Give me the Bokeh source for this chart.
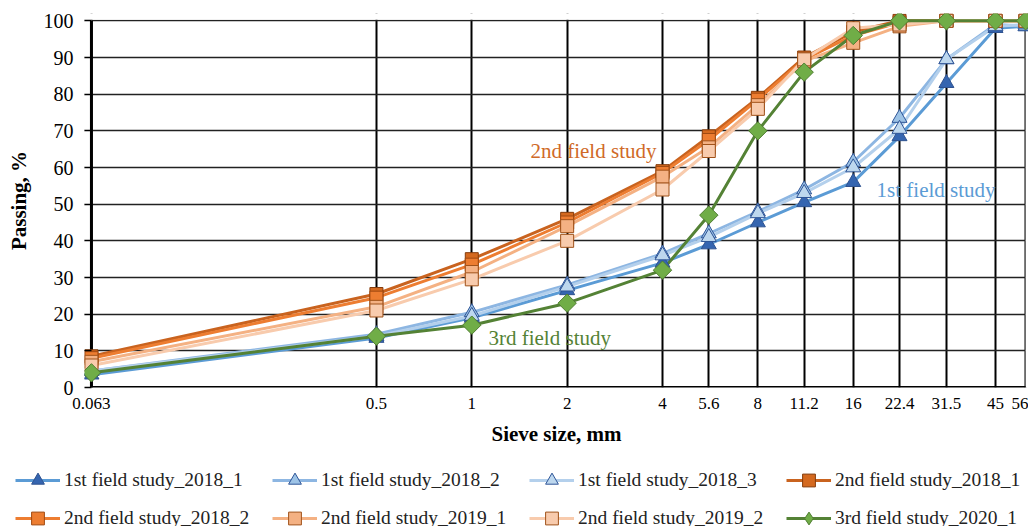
import math
from bokeh.plotting import figure
from bokeh.models import (FixedTicker, CustomJSTickFormatter, Legend, LegendItem, Range1d, Label,
                          BoxAnnotation)
from bokeh.embed import file_html
from bokeh.resources import INLINE

sieve = [0.063, 0.5, 1, 2, 4, 5.6, 8, 11.2, 16, 22.4, 31.5, 45, 56]
y_ticks = list(range(0, 101, 10))

s1_2018_1 = [3.5, 13.5, 19, 26.5, 34, 39, 45, 50.5, 56, 68.5, 83, 98, 98.5]
s1_2018_2 = [4.5, 14.5, 20.5, 28, 36.5, 42, 48, 54, 61.5, 73.5, 89.5, 99, 98.5]
s1_2018_3 = [4.5, 14, 19.5, 27.5, 36, 41, 47.5, 53, 60, 70.5, 89.5, 98.5, 99]
s2_2018_1 = [8.5, 25.5, 35, 46, 59, 68.5, 79, 90, 97, 100, 100, 100, 100]
s2_2018_2 = [8, 24.5, 33.5, 45, 58.5, 67.5, 78.5, 89.5, 96, 99.5, 100, 100, 100]
s2_2019_1 = [7, 22, 31.5, 44, 57.5, 65.5, 77, 89, 94, 98.5, 100, 100, 100]
s2_2019_2 = [6, 21, 29.5, 40, 54, 64.5, 76, 89.5, 98, 99, 100, 100, 100]
s3_2020_1 = [4, 14, 17, 23, 32, 47, 70, 86, 96, 100, 100, 100, 100]

series_names = ["1st field study_2018_1", "1st field study_2018_2", "1st field study_2018_3",
                "2nd field study_2018_1", "2nd field study_2018_2", "2nd field study_2019_1",
                "2nd field study_2019_2", "3rd field study_2020_1"]
series_vals = [s1_2018_1, s1_2018_2, s1_2018_3, s2_2018_1, s2_2018_2, s2_2019_1, s2_2019_2, s3_2020_1]

styles = [
    dict(line="#5B9BD5", fill="#3565B0", outline="#2F528F", marker="triangle", size=15, angle=0, legend_marker="triangle"),
    dict(line="#8DB6E2", fill="#9DC3E6", outline="#2F5597", marker="triangle", size=15, angle=0, legend_marker="triangle"),
    dict(line="#B4D0EC", fill="#BDD7EE", outline="#2F5597", marker="triangle", size=15, angle=0, legend_marker="triangle"),
    dict(line="#C9631F", fill="#D4691F", outline="#843C0C", marker="square", size=13, angle=0, legend_marker="square"),
    dict(line="#ED7D31", fill="#ED7D31", outline="#A04A12", marker="square", size=13, angle=0, legend_marker="square"),
    dict(line="#F4B183", fill="#F4B183", outline="#A0521A", marker="square", size=13, angle=0, legend_marker="square"),
    dict(line="#F8CBAD", fill="#F8CBAD", outline="#A0521A", marker="square", size=13, angle=0, legend_marker="square"),
    dict(line="#548235", fill="#70AD47", outline="#507E32", marker="square", size=13, angle=math.pi / 4, legend_marker="diamond"),
]

ann_texts = ["2nd field study", "1st field study", "3rd field study"]
ann_x = [1.532, 18.96, 1.129]
ann_y = [64.6, 54.0, 13.4]
ann_colors = ["#D06A28", "#5B9BD5", "#548235"]

FONT = "Liberation Serif"
x_lo, x_hi = 0.0599, 57.2
y_lo, y_hi = 0, 102

p = figure(width=1028, height=448, x_axis_type="log", output_backend="svg",
           toolbar_location=None, min_border_left=84, min_border_right=0,
           min_border_top=13, min_border_bottom=61)
p.x_range = Range1d(x_lo, x_hi)
p.y_range = Range1d(y_lo, y_hi)
p.outline_line_color = None

# white masks over the padding around the grid
for kw in (dict(bottom=y_ticks[-1] + 0.3), dict(right=sieve[0]), dict(left=sieve[-1])):
    p.add_layout(BoxAnnotation(fill_color="white", fill_alpha=1, line_alpha=0, level="underlay", **kw))

# axis lines along the first grid positions
p.segment(x0=[sieve[0]], y0=[y_ticks[0]], x1=[sieve[0]], y1=[y_ticks[-1]], line_color="black", line_width=3)
p.segment(x0=[sieve[0]], y0=[y_ticks[0]], x1=[sieve[-1]], y1=[y_ticks[0]], line_color="black", line_width=3)

for name, vals, st in zip(series_names, series_vals, styles):
    p.line(sieve, vals, line_color=st["line"], line_width=3)
for name, vals, st in zip(series_names, series_vals, styles):
    p.scatter(sieve, vals, marker=st["marker"], size=st["size"], fill_color=st["fill"],
              line_color=st["outline"], line_width=1, angle=st["angle"])

for t, x, y, c in zip(ann_texts, ann_x, ann_y, ann_colors):
    p.add_layout(Label(x=x, y=y, text=t, text_color=c, text_font=FONT, text_font_size="21px",
                       text_baseline="middle", text_align="left"))

p.xaxis.ticker = FixedTicker(ticks=sieve)
p.xaxis.formatter = CustomJSTickFormatter(code="return String(Math.round(tick*1000)/1000);")
p.yaxis.ticker = FixedTicker(ticks=y_ticks)

p.xgrid.grid_line_color = "black"
p.xgrid.grid_line_width = 2
p.ygrid.grid_line_color = "#222222"
p.ygrid.grid_line_width = 1.5

for ax in (p.xaxis[0], p.yaxis[0]):
    ax.axis_line_color = None
    ax.major_label_text_font = FONT
    ax.major_label_text_color = "black"
    ax.axis_label_text_font = FONT
    ax.axis_label_text_font_size = "21px"
    ax.axis_label_text_font_style = "bold"
    ax.axis_label_text_color = "black"
    ax.minor_tick_line_color = None

p.xaxis.axis_label = "Sieve size, mm"
p.yaxis.axis_label = "Passing, %"
p.xaxis.major_tick_out = 0
p.xaxis.major_tick_in = 0
p.xaxis.major_label_standoff = 10
p.xaxis.axis_label_standoff = 10
p.xaxis.major_label_text_font_size = "17px"
p.yaxis.major_label_text_font_size = "20px"
p.yaxis.major_tick_out = 0
p.yaxis.major_tick_in = 7
p.yaxis.major_tick_line_width = 1.5
p.yaxis.major_tick_line_color = "black"
p.yaxis.major_label_standoff = 11
p.yaxis.axis_label_standoff = 10

# legend strip below the chart (separate root, same series data kept out of view)
lg = figure(width=1028, height=78, output_backend="svg", toolbar_location=None, min_border=0,
            x_range=Range1d(1000, 2000), y_range=Range1d(1000, 2000))
lg.outline_line_color = None
lg.axis.visible = False
lg.grid.visible = False

items = []
for name, vals, st in zip(series_names, series_vals, styles):
    l = lg.line(sieve, vals, line_color=st["line"], line_width=3)
    m = lg.scatter(sieve, vals, marker=st["legend_marker"], size=st["size"], fill_color=st["fill"],
                   line_color=st["outline"], line_width=1)
    items.append(LegendItem(label=name, renderers=[l, m]))

for row, loc in ((items[:4], (15, 30)), (items[4:], (15, -8))):
    leg = Legend(items=row, orientation="horizontal", location=loc,
                 label_text_font=FONT, label_text_font_size="19.5px", label_text_color="#222222",
                 glyph_width=45, glyph_height=32, label_standoff=4, label_width=188,
                 spacing=20, padding=0, margin=0, border_line_color=None,
                 background_fill_alpha=0)
    lg.add_layout(leg, "center")

open("out.html", "w").write(file_html([p, lg], INLINE))
